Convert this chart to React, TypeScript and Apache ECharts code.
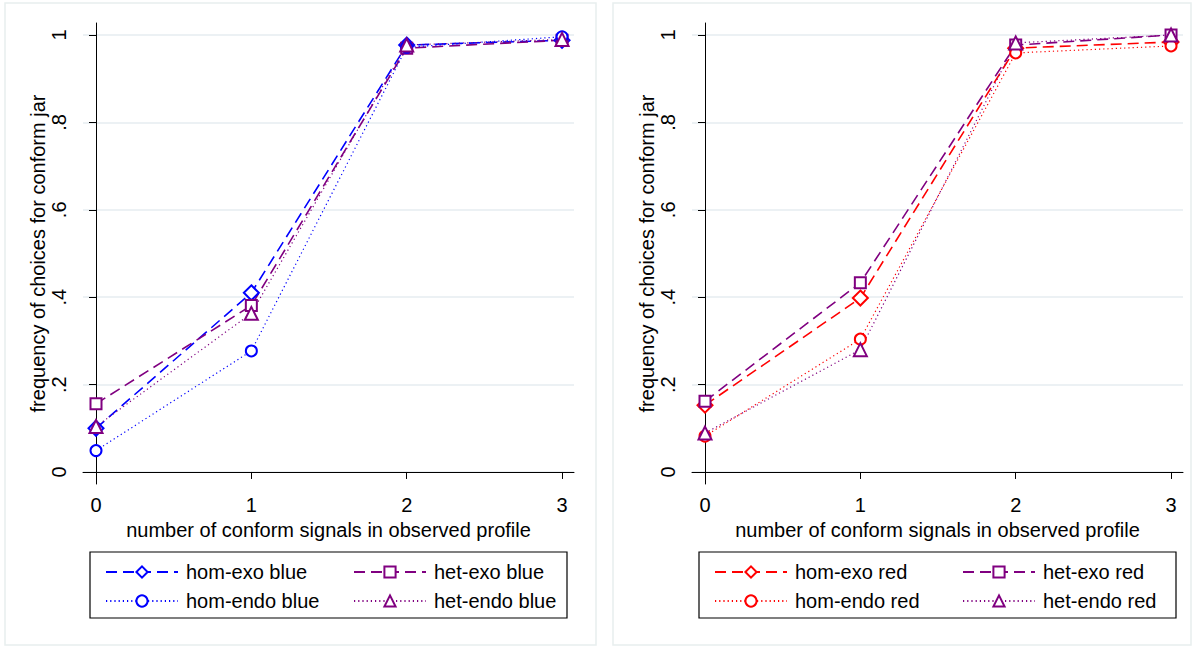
import React, { useEffect, useRef } from "react";
import * as echarts from "echarts";

const xValues = [0, 1, 2, 3];
const xTicks = [0, 1, 2, 3];
const yTicks = [0, 0.2, 0.4, 0.6, 0.8, 1];

const homExoBlue = [0.1, 0.41, 0.977, 0.988];
const homEndoBlue = [0.049, 0.277, 0.972, 0.996];
const hetExoBlue = [0.156, 0.381, 0.97, 0.988];
const hetEndoBlue = [0.104, 0.363, 0.977, 0.99];

const homExoRed = [0.153, 0.398, 0.97, 0.984];
const homEndoRed = [0.082, 0.304, 0.959, 0.975];
const hetExoRed = [0.162, 0.433, 0.977, 1.0];
const hetEndoRed = [0.089, 0.28, 0.982, 1.0];

const namesBlue = ["hom-exo blue", "hom-endo blue", "het-exo blue", "het-endo blue"];
const namesRed = ["hom-exo red", "hom-endo red", "het-exo red", "het-endo red"];

const xTitle = "number of conform signals in observed profile";
const yTitle = "frequency of choices for conform jar";

const FONT = "Liberation Sans, Arial, Helvetica, sans-serif";
const BLUE = "#0000ff";
const PURPLE = "#800080";
const RED = "#ff0000";

function pairs(vals: number[]) {
  return xValues.map((x, i) => [x, vals[i]]);
}

function mkSeries(name: string, vals: number[], color: string, symbol: string, size: number, dashed: boolean, idx: number) {
  return {
    name,
    type: "line",
    xAxisIndex: idx,
    yAxisIndex: idx,
    data: pairs(vals),
    symbol,
    symbolSize: size,
    showSymbol: true,
    lineStyle: dashed
      ? { color, width: 1.6, type: [11, 6] }
      : { color, width: 1.2, type: [1.2, 3] },
    itemStyle: { color, borderColor: color, borderWidth: 1.6 },
    emphasis: { disabled: true },
    z: 3,
  };
}

function mkX(idx: number) {
  return {
    type: "value",
    gridIndex: idx,
    min: -0.0837,
    max: 3.077,
    name: xTitle,
    nameLocation: "middle",
    nameGap: 33,
    nameTextStyle: { fontSize: 20, color: "#000", fontFamily: FONT },
    axisLine: { show: true, lineStyle: { color: "#000", width: 1 } },
    axisTick: { show: true, customValues: xTicks, length: 7, lineStyle: { color: "#000" } },
    axisLabel: {
      customValues: xTicks,
      fontSize: 20,
      color: "#000",
      fontFamily: FONT,
      margin: 11,
      formatter: (v: number) => String(v),
    },
    splitLine: { show: false },
  };
}

function fmtY(v: number) {
  if (v === 0) return "0";
  if (v === 1) return "1";
  return String(Math.round(v * 10) / 10).replace(/^0/, "");
}

function mkY(idx: number) {
  return {
    type: "value",
    gridIndex: idx,
    min: -0.0275,
    max: 1.0275,
    name: yTitle,
    nameLocation: "middle",
    nameGap: 35,
    nameTextStyle: { fontSize: 20, color: "#000", fontFamily: FONT },
    axisLine: { show: true, lineStyle: { color: "#000", width: 1 } },
    axisTick: { show: true, customValues: yTicks, length: 7, lineStyle: { color: "#000" } },
    axisLabel: {
      customValues: yTicks,
      rotate: 90,
      fontSize: 20,
      color: "#000",
      fontFamily: FONT,
      margin: 14,
      formatter: fmtY,
    },
    splitLine: { show: true, customValues: yTicks, lineStyle: { color: "#e6edf0", width: 1.5 } },
  };
}

function mkLegend(names: string[], left: number) {
  return {
    orient: "vertical",
    left,
    top: 557,
    data: names,
    itemWidth: 72,
    itemHeight: 14,
    itemGap: 9,
    selectedMode: false,
    textStyle: { fontSize: 20, color: "#000", fontFamily: FONT, padding: [0, 0, 0, 3] },
  };
}

export default function App() {
  const ref = useRef<HTMLDivElement>(null);
  useEffect(() => {
    if (!ref.current) return;
    const chart = echarts.init(ref.current, undefined, { renderer: "svg" });
    const option: any = {
      animation: false,
      backgroundColor: "#fff",
      grid: [
        { left: 83, top: 23, width: 491, height: 461 },
        { left: 692, top: 23, width: 491, height: 461 },
      ],
      xAxis: [mkX(0), mkX(1)],
      yAxis: [mkY(0), mkY(1)],
      legend: [
        mkLegend([namesBlue[0], namesBlue[1]], 100),
        mkLegend([namesBlue[2], namesBlue[3]], 348),
        mkLegend([namesRed[0], namesRed[1]], 709),
        mkLegend([namesRed[2], namesRed[3]], 957),
      ],
      graphic: [
        { type: "rect", shape: { x: 5, y: 3, width: 591, height: 642 }, style: { fill: "none", stroke: "#e8eeee", lineWidth: 1.5 }, silent: true },
        { type: "rect", shape: { x: 613, y: 3, width: 578, height: 642 }, style: { fill: "none", stroke: "#e8eeee", lineWidth: 1.5 }, silent: true },
        { type: "rect", shape: { x: 90, y: 552, width: 477, height: 66 }, style: { fill: "none", stroke: "#000", lineWidth: 1.2 }, silent: true },
        { type: "rect", shape: { x: 699, y: 552, width: 477, height: 66 }, style: { fill: "none", stroke: "#000", lineWidth: 1.2 }, silent: true },
      ],
      series: [
        mkSeries(namesBlue[0], homExoBlue, BLUE, "emptyDiamond", 15, true, 0),
        mkSeries(namesBlue[2], hetExoBlue, PURPLE, "emptyRect", 11, true, 0),
        mkSeries(namesBlue[1], homEndoBlue, BLUE, "emptyCircle", 11, false, 0),
        mkSeries(namesBlue[3], hetEndoBlue, PURPLE, "emptyTriangle", 13, false, 0),
        mkSeries(namesRed[0], homExoRed, RED, "emptyDiamond", 15, true, 1),
        mkSeries(namesRed[2], hetExoRed, PURPLE, "emptyRect", 11, true, 1),
        mkSeries(namesRed[1], homEndoRed, RED, "emptyCircle", 11, false, 1),
        mkSeries(namesRed[3], hetEndoRed, PURPLE, "emptyTriangle", 13, false, 1),
      ],
    };
    chart.setOption(option);
    return () => chart.dispose();
  }, []);
  return (
    <div
      ref={ref}
      style={{ position: "absolute", left: 0, top: 0, width: 1196, height: 648 }}
    />
  );
}
